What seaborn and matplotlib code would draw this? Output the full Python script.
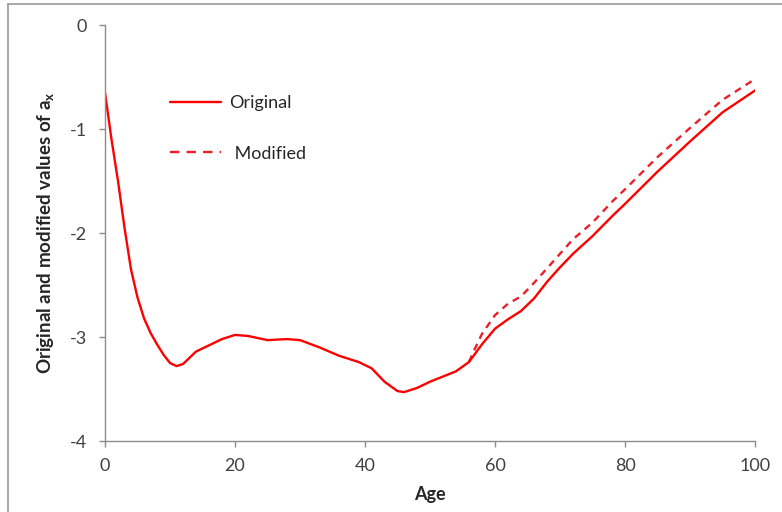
import numpy as np
import pandas as pd
import matplotlib
matplotlib.use("Agg")
import matplotlib.pyplot as plt
from matplotlib.lines import Line2D
import seaborn as sns

# Original a_x values
ages_orig = [0, 1, 2, 3, 4, 5, 6, 7, 8, 9, 10, 11, 12, 13, 14, 16, 18, 20, 22, 25,
             28, 30, 33, 36, 39, 41, 43, 45, 46, 48, 50, 52, 54, 56, 58, 60, 62, 64,
             66, 68, 70, 72, 75, 78, 80, 85, 90, 95, 100]
ax_orig = [-0.65, -1.10, -1.50, -1.95, -2.35, -2.62, -2.82, -2.96, -3.07, -3.17,
           -3.25, -3.28, -3.26, -3.20, -3.14, -3.08, -3.02, -2.98, -2.99, -3.03,
           -3.02, -3.03, -3.10, -3.18, -3.24, -3.30, -3.43, -3.52, -3.53, -3.49,
           -3.43, -3.38, -3.33, -3.24, -3.07, -2.92, -2.83, -2.75, -2.63, -2.47,
           -2.33, -2.20, -2.03, -1.84, -1.72, -1.41, -1.12, -0.84, -0.63]

# Modified values only differ from about age 56 onwards
ages_mod = [56, 57, 58, 60, 62, 64, 66, 68, 70, 72, 75, 78, 80, 85, 90, 95, 100]
ax_mod = [-3.24, -3.10, -2.97, -2.79, -2.68, -2.61, -2.48, -2.34, -2.20, -2.06,
          -1.90, -1.70, -1.58, -1.27, -0.99, -0.72, -0.52]

x_ticks = [0, 20, 40, 60, 80, 100]
y_ticks = [0, -1, -2, -3, -4]

sns.set_style("white")
plt.rcParams['font.family'] = ['Lato', 'DejaVu Sans']

df_orig = pd.DataFrame({"Age": ages_orig, "ax": ax_orig})
df_mod = pd.DataFrame({"Age": ages_mod, "ax": ax_mod})

fig = plt.figure(figsize=(7.82, 5.12), dpi=100)
ax = fig.add_axes([105 / 782, 1 - 441 / 512, 650 / 782, 416 / 512])

red = "#FF0000"
red_mod = "#E8202A"
sns.lineplot(data=df_mod, x="Age", y="ax", ax=ax, color=red_mod, lw=1.7,
             linestyle=(0, (3, 2.4)))
sns.lineplot(data=df_orig, x="Age", y="ax", ax=ax, color=red, lw=1.7)

ax.set_xlim(0, 100)
ax.set_ylim(-4, 0)
ax.set_xticks(x_ticks)
ax.set_yticks(y_ticks)
ax.set_xticklabels([str(t) for t in x_ticks], fontsize=13, color="#404040")
ax.set_yticklabels([str(t) for t in y_ticks], fontsize=13, color="#404040")
ax.tick_params(axis="both", length=4, width=1, color="#8c8c8c", direction="out",
               left=True, bottom=True)
ax.tick_params(axis="x", pad=8)
ax.tick_params(axis="y", pad=9)

for side in ["top", "right"]:
    ax.spines[side].set_visible(False)
for side in ["left", "bottom"]:
    ax.spines[side].set_color("#8c8c8c")
    ax.spines[side].set_linewidth(1)

ax.set_xlabel("Age", fontsize=13, fontweight="bold", labelpad=9)
ax.set_ylabel(r"Original and modified values of a$_\mathregular{x}$", fontsize=13.5,
              fontweight="bold", labelpad=9)

handles = [Line2D([], [], color=red, lw=1.7),
           Line2D([], [], color=red_mod, lw=1.7, linestyle=(0, (4, 3)))]
ax.legend(handles, ["Original", " Modified"], loc="upper left",
          bbox_to_anchor=(0.075, 0.87), frameon=False, fontsize=13,
          handlelength=2.8, labelspacing=1.9, handletextpad=0.5)

# thin frame on top and left edges of the picture
fig.add_artist(Line2D([8 / 782, 8 / 782], [0, 1 - 4 / 512], color="#999999",
                      lw=1.2, transform=fig.transFigure))
fig.add_artist(Line2D([8 / 782, 1], [1 - 4 / 512, 1 - 4 / 512], color="#999999",
                      lw=1.2, transform=fig.transFigure))

fig.savefig("out.png", dpi=100)
